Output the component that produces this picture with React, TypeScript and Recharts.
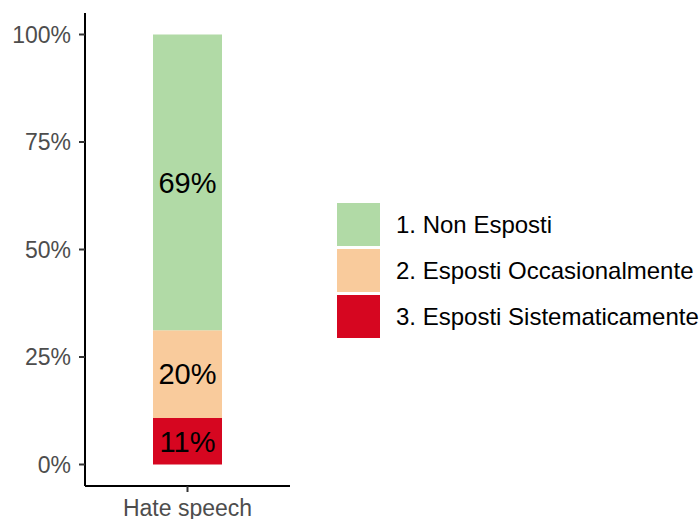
import React from 'react';
import { BarChart, Bar, XAxis, YAxis, LabelList } from 'recharts';

const CATEGORIES = ['Hate speech'];
const NON_ESPOSTI = [68.8];
const OCCASIONALMENTE = [20.4];
const SISTEMATICAMENTE = [10.8];
const Y_TICKS = [0, 25, 50, 75, 100];

// stacking order: first series sits at the bottom
const SERIES = [
  { key: 'sist', name: '3. Esposti Sistematicamente', values: SISTEMATICAMENTE, color: '#d60620' },
  { key: 'occ', name: '2. Esposti Occasionalmente', values: OCCASIONALMENTE, color: '#f9cb9c' },
  { key: 'non', name: '1. Non Esposti', values: NON_ESPOSTI, color: '#b1daa6' },
];

const FONT = '"Liberation Sans", Arial, sans-serif';

const data = CATEGORIES.map((cat, i) => {
  const row: Record<string, string | number> = { cat };
  SERIES.forEach(s => { row[s.key] = s.values[i]; });
  return row;
});

const LegendBox = () => (
  <div style={{ position: 'absolute', left: 337, top: 203, fontFamily: FONT }}>
    {[...SERIES].reverse().map(s => (
      <div key={s.key} style={{ display: 'flex', alignItems: 'center', height: 43, marginBottom: 3 }}>
        <div style={{ width: 43, height: 43, background: s.color }} />
        <span style={{ marginLeft: 16, fontSize: 24, color: '#000', whiteSpace: 'nowrap' }}>{s.name}</span>
      </div>
    ))}
  </div>
);

export default function App() {
  return (
    <div style={{ position: 'absolute', left: 0, top: 0, width: 699, height: 519, background: '#fff', fontFamily: FONT, overflow: 'hidden' }}>
      <BarChart
        width={699}
        height={519}
        data={data}
        margin={{ top: 13, right: 409, bottom: 0, left: 8 }}
        style={{ fontFamily: FONT }}
      >
        <XAxis
          dataKey="cat"
          height={33}
          tickSize={6}
          tickMargin={8}
          axisLine={{ stroke: '#000', strokeWidth: 2 }}
          tickLine={{ stroke: '#333', strokeWidth: 2 }}
          tick={{ fill: '#4d4d4d', fontSize: 23 }}
        />
        <YAxis
          width={77}
          type="number"
          domain={[-5, 105]}
          ticks={Y_TICKS}
          allowDataOverflow
          tickFormatter={(v: number) => `${v}%`}
          tickSize={6}
          tickMargin={8}
          axisLine={{ stroke: '#000', strokeWidth: 2 }}
          tickLine={{ stroke: '#333', strokeWidth: 2 }}
          tick={{ fill: '#4d4d4d', fontSize: 23 }}
        />
        {SERIES.map(s => (
          <Bar key={s.key} dataKey={s.key} name={s.name} stackId="a" fill={s.color} barSize={69} isAnimationActive={false}>
            <LabelList
              dataKey={s.key}
              position="center"
              formatter={(v: any) => `${Math.round(Number(v))}%`}
              style={{ fill: '#000', fontSize: 29, fontFamily: FONT }}
            />
          </Bar>
        ))}
      </BarChart>
      <LegendBox />
    </div>
  );
}
